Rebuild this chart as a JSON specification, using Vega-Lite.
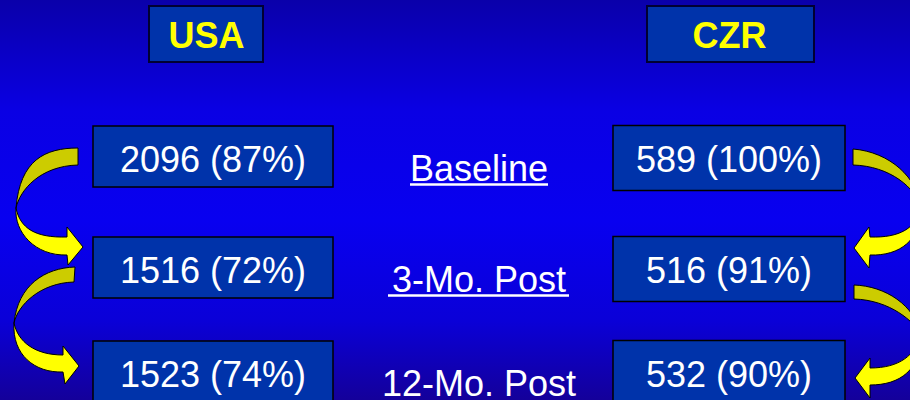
{
  "$schema": "https://vega.github.io/schema/vega-lite/v6.json",
  "width": 910,
  "height": 400,
  "autosize": "none",
  "padding": 0,
  "background": "#0800E0",
  "config": {"view": {"stroke": null}},
  "resolve": {"scale": {"y": "independent"}},
  "layer": [
    {
      "data": {"values": [{}]},
      "mark": {
        "type": "rect",
        "color": {
          "gradient": "linear", "x1": 0, "y1": 0, "x2": 0, "y2": 1,
          "stops": [
            {"offset": 0, "color": "#0A00AA"},
            {"offset": 0.28, "color": "#0A00E4"},
            {"offset": 0.55, "color": "#0800F0"},
            {"offset": 0.8, "color": "#0A00D8"},
            {"offset": 1, "color": "#14009A"}
          ]
        }
      },
      "encoding": {}
    },
    {
      "data": {"values": [{"country": "USA", "header": "USA"}, {"country": "CZR", "header": "CZR"}]},
      "encoding": {
        "x": {"field": "country", "type": "nominal", "scale": {"type": "point", "domain": ["USA", "Time", "CZR"], "range": [213, 729], "padding": 0}, "axis": null},
        "y": {"datum": "header", "type": "nominal", "scale": {"type": "band", "domain": ["header"], "range": [6, 62], "paddingInner": 0, "paddingOuter": 0}, "axis": null}
      },
      "layer": [
        {
          "transform": [{"filter": "datum.country == 'USA'"}],
          "mark": {"type": "rect", "width": 114, "xOffset": -7, "fill": "#0033AA", "stroke": "#000033", "strokeWidth": 2}
        },
        {
          "transform": [{"filter": "datum.country == 'CZR'"}],
          "mark": {"type": "rect", "width": 167, "xOffset": 1.5, "fill": "#0033AA", "stroke": "#000033", "strokeWidth": 2}
        },
        {
          "transform": [{"filter": "datum.country == 'USA'"}],
          "mark": {"type": "text", "font": "Liberation Sans", "fontWeight": "bold", "fontSize": 36, "fill": "#FFFF00", "baseline": "alphabetic", "dy": 14, "dx": -6.5},
          "encoding": {"text": {"field": "header"}}
        },
        {
          "transform": [{"filter": "datum.country == 'CZR'"}],
          "mark": {"type": "text", "font": "Liberation Sans", "fontWeight": "bold", "fontSize": 36, "fill": "#FFFF00", "baseline": "alphabetic", "dy": 14, "dx": 0.5},
          "encoding": {"text": {"field": "header"}}
        }
      ]
    },
    {
      "encoding": {
        "x": {"field": "country", "type": "nominal", "scale": {"type": "point", "domain": ["USA", "Time", "CZR"], "range": [213, 729], "padding": 0}, "axis": null},
        "y": {"field": "month", "type": "quantitative", "scale": {"domain": [0, 3, 12], "range": [157, 268, 372], "nice": false, "zero": false}, "axis": null}
      },
      "layer": [
        {
          "data": {"values": [
            {"country": "USA", "month": 0, "piece": "USA 0-3 back", "tone": "back"},
            {"country": "USA", "month": 0, "piece": "USA 0-3 front", "tone": "front"},
            {"country": "USA", "month": 3, "piece": "USA 3-12 back", "tone": "back"},
            {"country": "USA", "month": 3, "piece": "USA 3-12 front", "tone": "front"},
            {"country": "CZR", "month": 0, "piece": "CZR 0-3 back", "tone": "back"},
            {"country": "CZR", "month": 0, "piece": "CZR 0-3 front", "tone": "front"},
            {"country": "CZR", "month": 3, "piece": "CZR 3-12 back", "tone": "back"},
            {"country": "CZR", "month": 3, "piece": "CZR 3-12 front", "tone": "front"}
          ]},
          "mark": {"type": "point", "filled": true, "size": 4, "stroke": "#000000", "strokeWidth": 1, "opacity": 1, "fillOpacity": 1, "strokeOpacity": 1},
          "encoding": {
            "shape": {
              "field": "piece", "type": "nominal", "legend": null,
              "scale": {
                "domain": ["USA 0-3 back", "USA 0-3 front", "USA 3-12 back", "USA 3-12 front", "CZR 0-3 back", "CZR 0-3 front", "CZR 3-12 back", "CZR 3-12 front"],
                "range": [
                  "M -135,-9 C -168,-9 -193,3 -197,51 C -193,33 -173,9 -135,8 Z",
                  "M -197,51 C -193,71 -178,81 -146,80 L -146,70 L -130,90 L -145,108 L -146,98 C -178,99 -199,75 -197,51 Z",
                  "M -138,-1 C -168,0 -195,17 -199,55 C -195,37 -173,15 -139,14 Z",
                  "M -199,55 C -195,74 -178,87 -150,87 L -150,78 L -134,98 L -148,116 L -150,104 C -178,105 -201,87 -199,55 Z",
                  "M 124,-8 C 161,-5 189,21 192,51 C 187,31 161,9 124,8 Z",
                  "M 192,51 C 187,71 171,81 141,80 L 140,70 L 125,91 L 140,111 L 141,98 C 171,99 192,83 192,51 Z",
                  "M 125,17 C 156,18 186,37 192,67 C 186,54 161,32 125,31 Z",
                  "M 192,67 C 186,87 171,100 141,100 L 141,90 L 126,110 L 141,130 L 141,117 C 171,117 192,102 192,67 Z"
                ]
              }
            },
            "fill": {"field": "tone", "type": "nominal", "legend": null, "scale": {"domain": ["back", "front"], "range": ["#CCCC00", "#FFFF00"]}}
          }
        },
        {
          "data": {"values": [
            {"country": "USA", "stage": "Baseline", "month": 0, "n": 2096, "pct": 87, "label": "2096 (87%)"},
            {"country": "USA", "stage": "3-Mo. Post", "month": 3, "n": 1516, "pct": 72, "label": "1516 (72%)"},
            {"country": "USA", "stage": "12-Mo. Post", "month": 12, "n": 1523, "pct": 74, "label": "1523 (74%)"},
            {"country": "CZR", "stage": "Baseline", "month": 0, "n": 589, "pct": 100, "label": "589 (100%)"},
            {"country": "CZR", "stage": "3-Mo. Post", "month": 3, "n": 516, "pct": 91, "label": "516 (91%)"},
            {"country": "CZR", "stage": "12-Mo. Post", "month": 12, "n": 532, "pct": 90, "label": "532 (90%)"}
          ]},
          "layer": [
            {
              "transform": [{"filter": "datum.country == 'USA'"}],
              "mark": {"type": "rect", "width": 240, "height": 61, "yOffset": -0.5, "fill": "#0033AA", "stroke": "#000000", "strokeWidth": 1.5}
            },
            {
              "transform": [{"filter": "datum.country == 'CZR'"}],
              "mark": {"type": "rect", "width": 232, "height": 65, "yOffset": 1, "fill": "#0033AA", "stroke": "#000000", "strokeWidth": 1.5}
            },
            {
              "mark": {"type": "text", "font": "Liberation Sans", "fontSize": 36, "fill": "#FFFFFF", "baseline": "alphabetic", "dy": 14.5},
              "encoding": {"text": {"field": "label"}}
            }
          ]
        },
        {
          "data": {"values": [
            {"stage": "Baseline", "month": 0},
            {"stage": "3-Mo. Post", "month": 3},
            {"stage": "12-Mo. Post", "month": 12}
          ]},
          "encoding": {"x": {"datum": "Time"}},
          "layer": [
            {
              "mark": {"type": "text", "font": "Liberation Sans", "fontSize": 36, "fill": "#FFFFFF", "baseline": "alphabetic", "dy": 24, "dx": 8},
              "encoding": {"text": {"field": "stage"}}
            },
            {
              "transform": [{"filter": "datum.month == 0"}],
              "mark": {"type": "rect", "width": 138, "height": 2.5, "xOffset": 8, "yOffset": 27.5, "fill": "#FFFFFF"}
            },
            {
              "transform": [{"filter": "datum.month == 3"}],
              "mark": {"type": "rect", "width": 181, "height": 2.5, "xOffset": 7.5, "yOffset": 27.5, "fill": "#FFFFFF"}
            }
          ]
        }
      ]
    }
  ]
}
